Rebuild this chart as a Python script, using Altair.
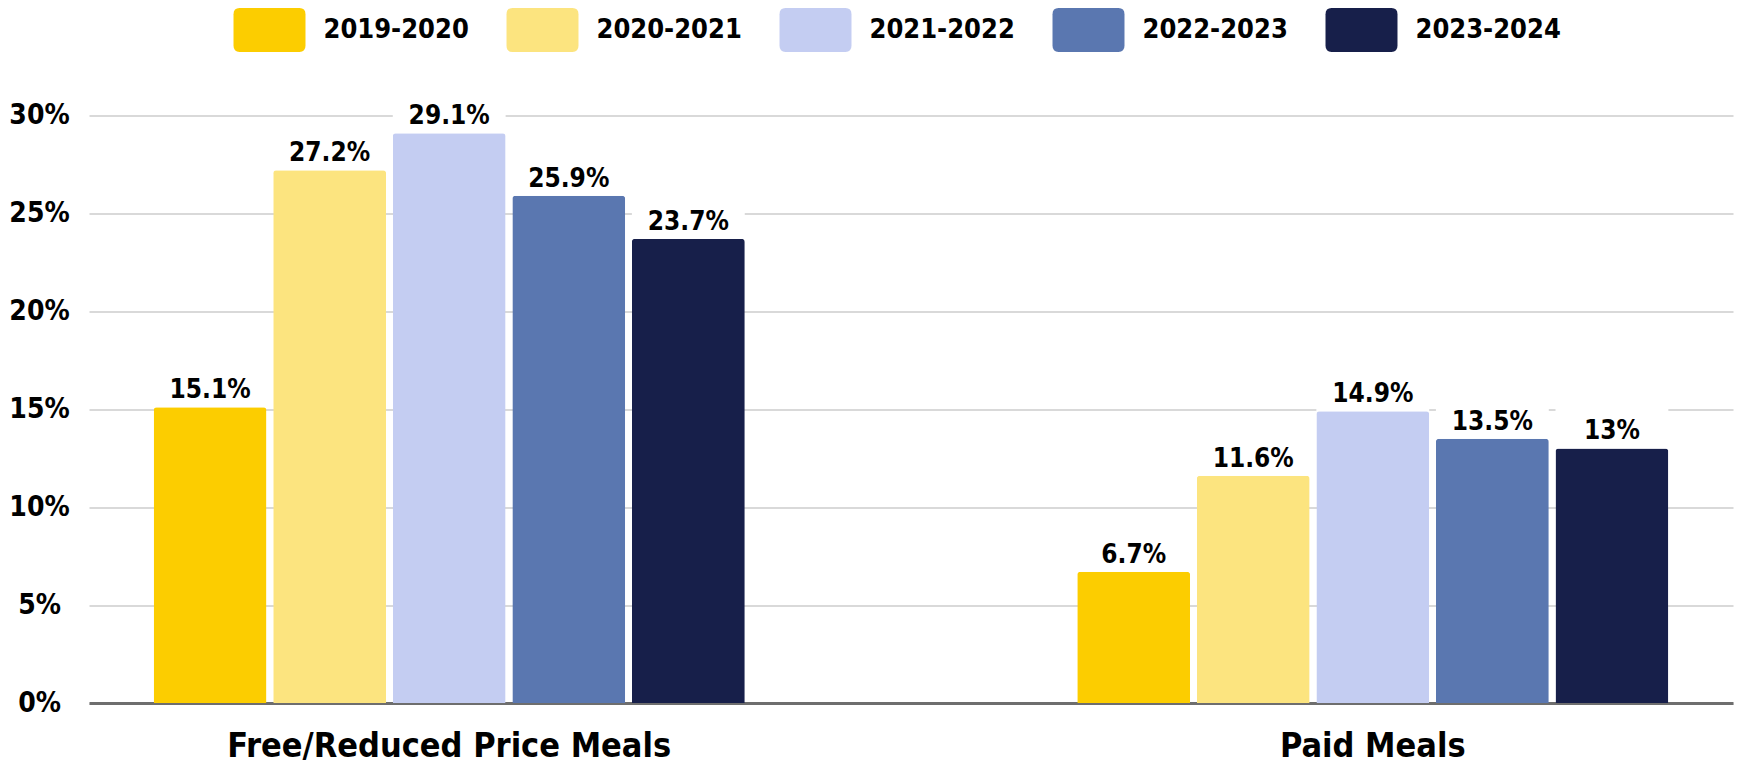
import altair as alt
import pandas as pd

groups = ["Free/Reduced Price Meals", "Paid Meals"]
years = ["2019-2020", "2020-2021", "2021-2022", "2022-2023", "2023-2024"]
free_reduced = [15.1, 27.2, 29.1, 25.9, 23.7]
paid = [6.7, 11.6, 14.9, 13.5, 13.0]
free_reduced_labels = ["15.1%", "27.2%", "29.1%", "25.9%", "23.7%"]
paid_labels = ["6.7%", "11.6%", "14.9%", "13.5%", "13%"]
colors = ["#FCCD00", "#FCE47F", "#C4CDF2", "#5A77B0", "#171F4A"]
y_ticks = [0, 5, 10, 15, 20, 25, 30]

rows = []
for g, vals, labs in [(groups[0], free_reduced, free_reduced_labels), (groups[1], paid, paid_labels)]:
    for yr, v, lab in zip(years, vals, labs):
        rows.append({"group": g, "year": yr, "value": v, "label": lab})
df = pd.DataFrame(rows)

FONT = "'DejaVu Sans Condensed', 'DejaVu Sans', sans-serif"

# rounded rectangle legend swatch (72 x 44 px when symbolSize = 44^2)
swatch = ("M-1.36,-1 L1.36,-1 Q1.636,-1 1.636,-0.72 L1.636,0.72 Q1.636,1 1.36,1 "
          "L-1.36,1 Q-1.636,1 -1.636,0.72 L-1.636,-0.72 Q-1.636,-1 -1.36,-1 Z")

x_enc = alt.X(
    "group:N", sort=groups,
    scale=alt.Scale(paddingInner=0.36, paddingOuter=0.07),
    axis=alt.Axis(title=None, labelAngle=0, labelFont=FONT, labelFontSize=34,
                  labelFontWeight="bold", labelColor="black", labelPadding=53,
                  labelLimit=1000, ticks=False, domainColor="#6e6e6e", domainWidth=3,
                  labelBaseline="alphabetic"),
)
xoff_enc = alt.XOffset("year:N", sort=years, scale=alt.Scale(paddingInner=0.056, paddingOuter=0))
y_enc = alt.Y(
    "value:Q",
    scale=alt.Scale(domain=[0, 30], nice=False),
    axis=alt.Axis(title=None, values=y_ticks, labelExpr="datum.value + '%'",
                  domain=False, ticks=False, gridColor="#d9d9d9", gridWidth=2,
                  labelAlign="center", labelBaseline="middle", labelPadding=50,
                  labelFont=FONT, labelFontSize=28, labelFontWeight="bold",
                  labelColor="black"),
)

base = alt.Chart(df)

boxes = base.transform_calculate(top="datum.value + 2.3").mark_bar(color="white").encode(
    x=x_enc, xOffset=xoff_enc, y=y_enc, y2=alt.Y2("top:Q")
)

bars = base.mark_bar(cornerRadiusTopLeft=3, cornerRadiusTopRight=3).encode(
    x=x_enc, xOffset=xoff_enc, y=y_enc,
    color=alt.Color(
        "year:N", sort=years,
        scale=alt.Scale(domain=years, range=colors),
        legend=alt.Legend(orient="none", direction="horizontal", legendX=158.5,
                          legendY=-107.5, title=None, symbolType=swatch,
                          symbolSize=1936, symbolStrokeWidth=0, symbolOpacity=1,
                          labelFont=FONT, labelFontSize=27, labelFontWeight="bold",
                          labelColor="black", labelOffset=32, columnPadding=37,
                          padding=0, labelLimit=400),
    ),
)

texts = base.mark_text(dy=-9, baseline="alphabetic", align="center", font=FONT,
                       fontSize=26, fontWeight="bold", color="black").encode(
    x=x_enc, xOffset=xoff_enc, y=y_enc, text="label:N"
)

chart = alt.layer(boxes, bars, texts).properties(
    width=1644, height=587.5,
    autosize=alt.AutoSizeParams(type="none"),
    padding={"left": 81, "top": 107.5, "right": 1, "bottom": 62},
).configure_view(strokeWidth=0)

chart.save("out.html", embed_options={"renderer": "svg", "actions": False})
